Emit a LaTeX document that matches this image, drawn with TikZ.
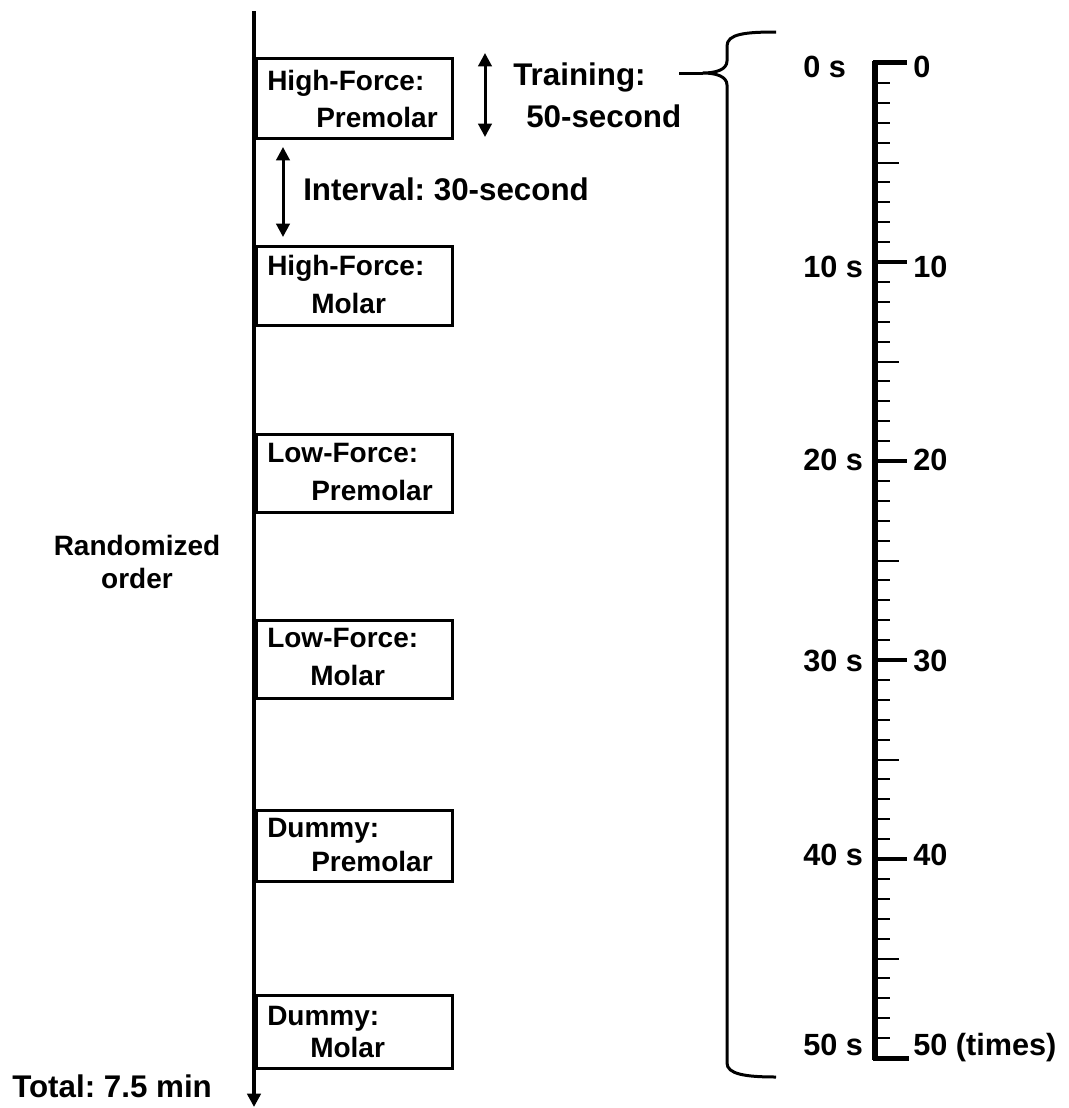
\documentclass[tikz,border=0pt]{standalone}
\usepackage{fontspec}
\setmainfont{Liberation Sans}
\usetikzlibrary{arrows.meta}
\frenchspacing
\begin{document}
\begin{tikzpicture}[x=0.75pt,y=-0.75pt,
  big/.style={font=\fontsize{23.5pt}{28pt}\selectfont\bfseries, inner sep=0pt, anchor=base west},
  mid/.style={font=\fontsize{21pt}{25pt}\selectfont\bfseries, inner sep=0pt, anchor=base},
  boxtxt/.style={font=\fontsize{21pt}{25pt}\selectfont\bfseries, inner sep=0pt, anchor=base west},
  stage/.style={draw, line width=2.25pt, minimum width=147pt, inner sep=0pt},
  dbl/.style={line width=2.25pt, {Triangle[length=10pt,width=10pt]}-{Triangle[length=10pt,width=10pt]}},
  minortick/.style={line width=1.5pt},
  majortick/.style={line width=3pt},
  rlab/.style={font=\fontsize{23pt}{28pt}\selectfont\bfseries, inner sep=0pt, anchor=base west}]
\useasboundingbox (0,0) rectangle (1069,1108);

% main time line
\coordinate (ltop) at (254,11);
\coordinate (lbot) at (254,1107);
\draw[line width=3pt, -{Triangle[length=10pt,width=10pt]}] (ltop) -- (lbot);

% stage boxes
\node[stage, minimum height=60pt]    (b1) at (354,98.5) {};
\node[stage, minimum height=59.25pt] (b2) at (354,286) {};
\node[stage, minimum height=58.5pt]  (b3) at (354,473.5) {};
\node[stage, minimum height=58.5pt]  (b4) at (354,659.5) {};
\node[stage, minimum height=53.25pt] (b5) at (354,846) {};
\node[stage, minimum height=54.75pt] (b6) at (354,1032) {};

\node[boxtxt] (t1a) at (267,90)  {High-Force:};
\node[boxtxt] (t1b) at (316,127) {Premolar};
\node[boxtxt] (t2a) at (267,275) {High-Force:};
\node[boxtxt] (t2b) at (311,313) {Molar};
\node[boxtxt] (t3a) at (267,462) {Low-Force:};
\node[boxtxt] (t3b) at (311,500) {Premolar};
\node[boxtxt] (t4a) at (267,647) {Low-Force:};
\node[boxtxt] (t4b) at (310,685) {Molar};
\node[boxtxt] (t5a) at (267,837) {Dummy:};
\node[boxtxt] (t5b) at (311,871) {Premolar};
\node[boxtxt] (t6a) at (267,1025) {Dummy:};
\node[boxtxt] (t6b) at (310,1057) {Molar};

% training / interval arrows
\coordinate (tra) at (485,53);
\coordinate (trb) at (485,137);
\draw[dbl] (tra) -- (trb);
\coordinate (ina) at (283,147);
\coordinate (inb) at (283,237);
\draw[dbl] (ina) -- (inb);

\node[big] (train) at (513,85) {Training:};
\node[big] (fifty) at (526,127) {50-second};
\node[big] (interval) at (303,200) {Interval: 30-second};

\node[mid] (rand) at (137,555) {Randomized};
\node[mid] (order) at (137,588) {order};
\node[big] (total) at (12,1097) {Total: 7.5 min};

% brace
\coordinate (lstart) at (679,73);
\coordinate (tip) at (703,73);
\draw[line width=2.25pt] (lstart) -- (tip);
\draw[line width=2.25pt, line join=round]
  (776,32) .. controls (745,32) and (727,34) .. (727,46) -- (727,61)
  .. controls (727,70) and (715,73) .. (tip)
  .. controls (715,73) and (727,76) .. (727,85) -- (727,1063)
  .. controls (727,1074) and (745,1077) .. (776,1077);

% ruler
\draw[line width=4.5pt] (875,60.5) -- (875,1060);
\draw[line width=3.75pt] (873,62.5) -- (907,62.5);
\draw[line width=3.75pt] (873,1058) -- (909,1058);
\foreach \d in {0,...,4} {
  \foreach \u in {1,2,3,4,6,7,8,9} {
    \draw[minortick] (876,{63+19.9*(10*\d+\u)}) -- (890,{63+19.9*(10*\d+\u)});
  }
}
\foreach \i in {5,15,25,35,45} {
  \draw[minortick] (876,{63+19.9*\i}) -- (899,{63+19.9*\i});
}
\foreach \i in {10,20,30,40} {
  \draw[majortick] (876,{63+19.9*\i}) -- (907,{63+19.9*\i});
}

\node[rlab] (l0) at (803,77)  {0 s};
\node[rlab] (l1) at (803,277) {10 s};
\node[rlab] (l2) at (803,470) {20 s};
\node[rlab] (l3) at (803,671) {30 s};
\node[rlab] (l4) at (803,865) {40 s};
\node[rlab] (l5) at (803,1055) {50 s};
\node[rlab] (r0) at (913,77)  {0};
\node[rlab] (r1) at (913,277) {10};
\node[rlab] (r2) at (913,470) {20};
\node[rlab] (r3) at (913,671) {30};
\node[rlab] (r4) at (913,865) {40};
\node[rlab] (r5) at (913,1055) {50 (times)};
\end{tikzpicture}
\end{document}
